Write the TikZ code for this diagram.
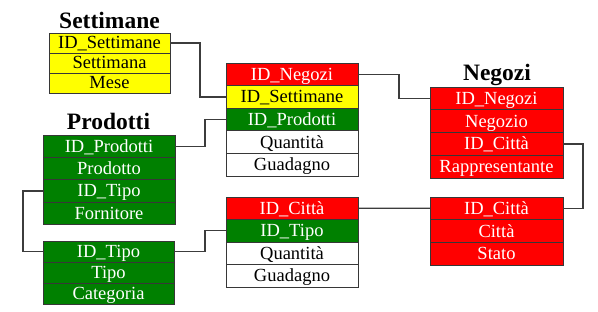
\documentclass[tikz,border=0pt]{standalone}
\usepackage{fontspec}
\setmainfont{Liberation Serif}
\definecolor{tblred}{RGB}{255,0,0}
\definecolor{tblgreen}{RGB}{0,128,0}
\definecolor{tblyellow}{RGB}{255,255,0}
\definecolor{edge}{RGB}{55,55,55}
\definecolor{link}{RGB}{60,60,60}
\begin{document}
\begin{tikzpicture}[x=1pt,y=-1pt,
  row/.style={draw=edge, line width=0.9pt, inner sep=0pt, outer sep=0pt,
    text height=12pt, text depth=0pt,
    font=\fontsize{18.5}{20}\selectfont},
  redrow/.style={row, fill=tblred, text=white},
  greenrow/.style={row, fill=tblgreen, text=white},
  yellowrow/.style={row, fill=tblyellow, text=black},
  whiterow/.style={row, fill=white, text=black},
  title/.style={anchor=base, inner sep=0pt, font=\fontsize{23.5}{26}\selectfont\bfseries},
  conn/.style={draw=link, line width=1.3pt}]
\useasboundingbox (0,0) rectangle (598,312);

% Settimane
\node[title] (tS) at (109.5,29) {Settimane};
\begin{scope}[every node/.append style={minimum width=121pt, minimum height=20pt}]
\node[yellowrow, anchor=north west] (s1) at (49,33) {ID\_Settimane};
\node[yellowrow, anchor=north] (s2) at (s1.south) {Settimana};
\node[yellowrow, anchor=north] (s3) at (s2.south) {Mese};
\end{scope}

% Prodotti
\node[title] (tP) at (108.5,130) {Prodotti};
\begin{scope}[every node/.append style={minimum width=132pt, minimum height=22.2pt}]
\node[greenrow, anchor=north west] (p1) at (43,135.5) {ID\_Prodotti};
\node[greenrow, anchor=north] (p2) at (p1.south) {Prodotto};
\node[greenrow, anchor=north] (p3) at (p2.south) {ID\_Tipo};
\node[greenrow, anchor=north] (p4) at (p3.south) {Fornitore};
\end{scope}

% Tipo
\begin{scope}[every node/.append style={minimum width=131pt, minimum height=21pt}]
\node[greenrow, anchor=north west] (t1) at (43,241) {ID\_Tipo};
\node[greenrow, anchor=north] (t2) at (t1.south) {Tipo};
\node[greenrow, anchor=north] (t3) at (t2.south) {Categoria};
\end{scope}

% Fatti per negozio, settimana e prodotto
\begin{scope}[every node/.append style={minimum width=132pt, minimum height=22.6pt}]
\node[redrow, anchor=north west] (f1) at (226,63) {ID\_Negozi};
\node[yellowrow, anchor=north] (f2) at (f1.south) {ID\_Settimane};
\node[greenrow, anchor=north] (f3) at (f2.south) {ID\_Prodotti};
\node[whiterow, anchor=north] (f4) at (f3.south) {Quantità};
\node[whiterow, anchor=north] (f5) at (f4.south) {Guadagno};
\end{scope}

% Fatti per città e tipo
\begin{scope}[every node/.append style={minimum width=132pt, minimum height=22.5pt}]
\node[redrow, anchor=north west] (g1) at (226,197) {ID\_Città};
\node[greenrow, anchor=north] (g2) at (g1.south) {ID\_Tipo};
\node[whiterow, anchor=north] (g3) at (g2.south) {Quantità};
\node[whiterow, anchor=north] (g4) at (g3.south) {Guadagno};
\end{scope}

% Negozi
\node[title] (tN) at (497,81) {Negozi};
\begin{scope}[every node/.append style={minimum width=133pt, minimum height=22.75pt}]
\node[redrow, anchor=north west] (n1) at (430,87) {ID\_Negozi};
\node[redrow, anchor=north] (n2) at (n1.south) {Negozio};
\node[redrow, anchor=north] (n3) at (n2.south) {ID\_Città};
\node[redrow, anchor=north] (n4) at (n3.south) {Rappresentante};
\end{scope}

% Città
\begin{scope}[every node/.append style={minimum width=133pt, minimum height=22.7pt}]
\node[redrow, anchor=north west] (c1) at (430,197) {ID\_Città};
\node[redrow, anchor=north] (c2) at (c1.south) {Città};
\node[redrow, anchor=north] (c3) at (c2.south) {Stato};
\end{scope}

% Collegamenti tra le chiavi
\draw[conn] (s1.east) -- ++(30,0) |- (f2.west);
\draw[conn] (p1.east) -- ++(30,0) |- (f3.west);
\draw[conn] (f1.east) -- ++(41,0) |- (n1.west);
\draw[conn] (n3.east) -- ++(20,0) |- (c1.east);
\draw[conn] (g1.east) -- (c1.west);
\draw[conn] (p3.west) -- ++(-20,0) |- (t1.west);
\draw[conn] (t1.east) -- ++(31,0) |- (g2.west);
\end{tikzpicture}
\end{document}
